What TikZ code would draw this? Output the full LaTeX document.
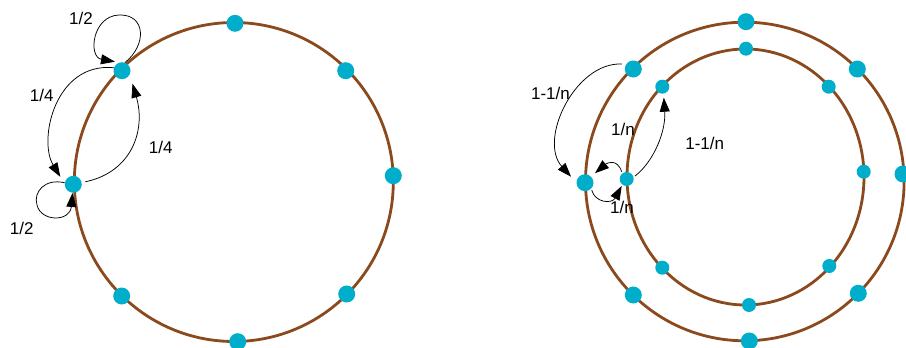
\documentclass[tikz,border=0pt]{standalone}
\usepackage{fontspec}
\setmainfont{Liberation Sans}
\usetikzlibrary{arrows.meta,calc}
\definecolor{ringbrown}{RGB}{139,74,30}
\definecolor{dotcyan}{RGB}{0,174,203}
\begin{document}
\begin{tikzpicture}[x=1pt,y=-1pt,
  ring/.style={draw=ringbrown,line width=2.8pt},
  bigdot/.style={circle,fill=dotcyan,inner sep=0pt,minimum size=17pt},
  smalldot/.style={circle,fill=dotcyan,inner sep=0pt,minimum size=14pt},
  conn/.style={draw=black,line width=0.75pt,-{Triangle[length=14pt,width=10pt]}},
  lbl/.style={font=\fontsize{17}{19}\selectfont,inner sep=0pt}]
\useasboundingbox (0,0) rectangle (906,348);
% rings
\draw[ring] (233.8,182) circle[radius=159.5];
\draw[ring] (744.8,181.5) circle[radius=159.3];
\draw[ring] (745.5,177) ellipse[x radius=118.5,y radius=128];
% left ring nodes
\node[bigdot] (a0) at (235,23.3) {};
\node[bigdot] (a1) at (345.7,70.7) {};
\node[bigdot] (a2) at (393.3,175.7) {};
\node[bigdot] (a3) at (346.7,294) {};
\node[bigdot] (a4) at (237.7,341.7) {};
\node[bigdot] (a5) at (121.7,296) {};
\node[bigdot] (a6) at (73.3,184.3) {};
\node[bigdot] (a7) at (122,70.7) {};
% right outer ring nodes
\node[bigdot] (b0) at (746,21.7) {};
\node[bigdot] (b1) at (857.3,69) {};
\node[bigdot] (b2) at (903,174) {};
\node[bigdot] (b3) at (858.3,293.3) {};
\node[bigdot] (b4) at (749.3,341) {};
\node[bigdot] (b5) at (633.3,295) {};
\node[bigdot] (b6) at (585,182.7) {};
\node[bigdot] (b7) at (633.3,69) {};
% right inner ring nodes
\node[smalldot] (c0) at (746,48.7) {};
\node[smalldot] (c1) at (828.7,86.7) {};
\node[smalldot] (c2) at (863.7,171.7) {};
\node[smalldot] (c3) at (829.3,266) {};
\node[smalldot] (c4) at (749,305) {};
\node[smalldot] (c5) at (662.3,267.7) {};
\node[smalldot] (c6) at (626.7,179) {};
\node[smalldot] (c7) at (662.3,86.7) {};
% left connectors
\draw[conn] (a7.70) .. controls (147,45) and (146,14) .. (119,15)
  .. controls (92,16) and (88,57) .. ($(a7)+(-7,-9)$);
\draw[conn] (a7.160) .. controls (55,62) and (38,140) .. ($(a6)+(-13,-7.5)$);
\draw[conn] ($(a6)+(12,-2.5)$) .. controls (132,172) and (146,130) .. ($(a7)+(10.5,13)$);
\draw[conn] (a6.170) .. controls (45,178) and (33,192) .. (37,205)
  .. controls (41,222) and (70,222) .. (a6.265);
% right connectors
\draw[conn] ($(b7)+(-11.5,-5)$) .. controls (575,62) and (538,140) .. ($(b6)+(-14,-6)$);
\draw[conn] ($(c6)+(8.5,-3)$) .. controls (655,160) and (666,130) .. ($(c7)+(1.5,11)$);
\draw[conn] ($(c6)+(-5,-7.3)$) .. controls (617,158) and (607,163) .. ($(b6)+(10,-9.5)$);
\draw[conn] ($(b6)+(6.7,7.3)$) .. controls (595,203) and (612,204) .. ($(c6)+(-5,7)$);
% labels
\node[lbl] (l1) at (81,18.7) {1/2};
\node[lbl] (l2) at (41.7,95.8) {1/4};
\node[lbl] (l3) at (160.8,147.5) {1/4};
\node[lbl] (l4) at (21.7,228.3) {1/2};
\node[lbl] (l5) at (550.5,93.8) {1-1/n};
\node[lbl] (l6) at (623,129) {1/n};
\node[lbl] (l7) at (704.7,143.3) {1-1/n};
\node[lbl] (l8) at (622,207.5) {1/n};
\end{tikzpicture}
\end{document}
